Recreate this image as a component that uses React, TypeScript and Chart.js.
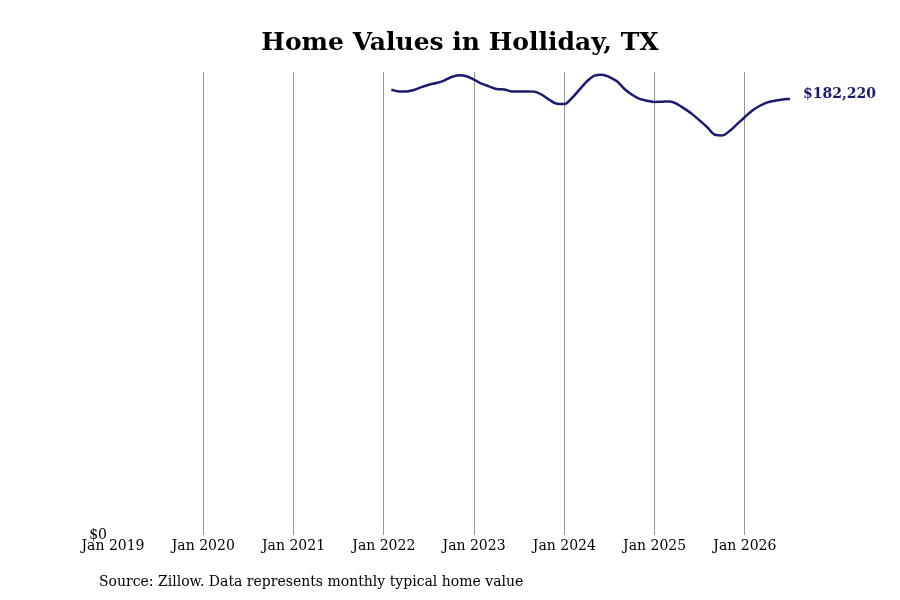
import { FC, useEffect, useRef } from "react";
import Chart from "chart.js/auto";

// months are counted from Jan 2019 (0); first value is Feb 2022
const firstMonth = 37;
const homeValues = [
  186100, 185400, 185400, 186000, 187200, 188200, 188900, 189900, 191400, 192100, 191700,
  190300, 188600, 187500, 186400, 186200, 185400, 185400, 185400, 185300, 184000, 181900, 180200,
  180100, 182600, 186100, 189600, 192000, 192400, 191400, 189600, 186400, 184000, 182300, 181500,
  181000, 181100, 181200, 180100, 178100, 175900, 173200, 170400, 167300, 167000, 168900, 171800,
  174700, 177400, 179400, 180800, 181500, 182050, 182220,
];
const tickYears = [2019, 2020, 2021, 2022, 2023, 2024, 2025, 2026];
const titleText = "Home Values in Holliday, TX";
const sourceText = "Source: Zillow. Data represents monthly typical home value";

const lineColor = "#1b1a6b";
const serif = "'DejaVu Serif', serif";

const App: FC = () => {
  const canvasRef = useRef<HTMLCanvasElement | null>(null);

  useEffect(() => {
    if (!canvasRef.current) return;
    const ctx = canvasRef.current.getContext("2d");
    if (!ctx) return;

    const points = homeValues.map((v, i) => ({ x: firstMonth + i, y: v }));
    const lastMonth = firstMonth + homeValues.length - 1;

    // titles, source line and the end-of-line value label
    const textPlugin = {
      id: "texts",
      afterDraw(chart: any) {
        const c = chart.ctx;
        c.save();
        c.fillStyle = "#000";
        c.textAlign = "center";
        c.textBaseline = "middle";
        c.font = `bold 25px ${serif}`;
        c.fillText(titleText, 460, 43);
        c.textAlign = "left";
        c.font = `14px ${serif}`;
        c.fillText(sourceText, 99, 582);
        const last = points[points.length - 1];
        const px = chart.scales.x.getPixelForValue(last.x);
        const py = chart.scales.y.getPixelForValue(last.y);
        c.fillStyle = lineColor;
        c.font = `bold 14px ${serif}`;
        c.fillText("$" + last.y.toLocaleString("en-US"), px + 13, py - 5);
        c.restore();
      },
    };

    const myChart = new Chart(ctx, {
      type: "line",
      data: {
        datasets: [
          {
            data: points,
            borderColor: lineColor,
            borderWidth: 2.5,
            pointRadius: 0,
            cubicInterpolationMode: "monotone",
            fill: false,
          },
        ],
      },
      options: {
        animation: false,
        responsive: true,
        maintainAspectRatio: false,
        layout: { padding: { top: 72, right: 110, left: 0, bottom: 0 } },
        plugins: {
          legend: { display: false },
          tooltip: { enabled: false },
          title: { display: false },
        },
        scales: {
          x: {
            type: "linear",
            min: 0,
            max: lastMonth,
            afterBuildTicks: (scale: any) => {
              scale.ticks = tickYears.map((yr) => ({ value: (yr - 2019) * 12 }));
            },
            afterFit: (scale: any) => {
              scale.height = 65;
            },
            ticks: {
              color: "#000",
              font: { family: serif, size: 14 },
              padding: 3,
              maxRotation: 0,
              autoSkip: false,
              callback: (v: any) => "Jan " + (2019 + Math.round(Number(v) / 12)),
            },
            grid: {
              drawTicks: false,
              lineWidth: 1,
              color: (c: any) => (c.tick && c.tick.value === 0 ? "rgba(0,0,0,0)" : "#999999"),
            },
            border: { display: false },
          },
          y: {
            min: 0,
            max: 193500,
            afterBuildTicks: (scale: any) => {
              scale.ticks = [{ value: 0 }];
            },
            afterFit: (scale: any) => {
              scale.width = 113;
            },
            ticks: {
              color: "#000",
              font: { family: serif, size: 14 },
              padding: 6,
              callback: (v: any) => "$" + Number(v).toLocaleString("en-US"),
            },
            grid: { display: false, drawTicks: false },
            border: { display: false },
          },
        },
      },
      plugins: [textPlugin],
    });

    return () => {
      myChart.destroy();
    };
  }, []);

  return (
    <div style={{ position: "fixed", left: 0, top: 0, width: 900, height: 600, background: "#fff" }}>
      <canvas ref={canvasRef}></canvas>
    </div>
  );
};
export default App;
